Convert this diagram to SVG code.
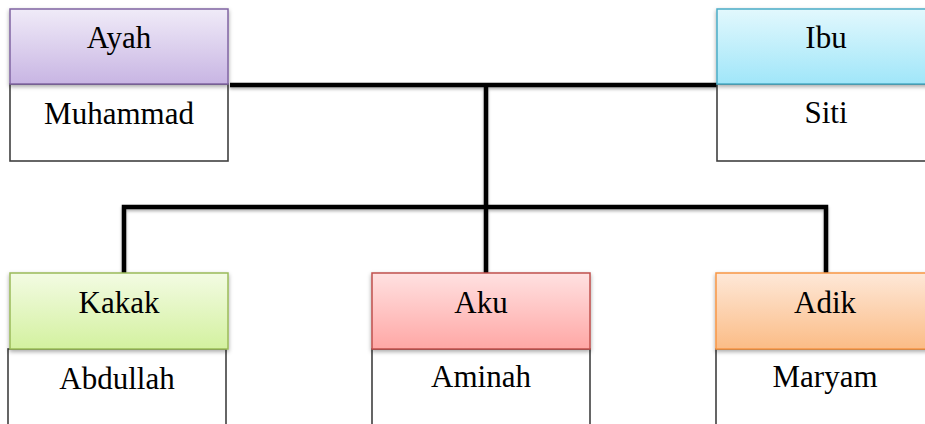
<svg xmlns="http://www.w3.org/2000/svg" width="925" height="424" viewBox="0 0 925 424">
<style>
.t{font-family:"Times New Roman","Liberation Serif",Tinos,"Noto Serif","DejaVu Serif",serif;font-size:31px;fill:#000;text-anchor:middle}
.body{fill:#fff;stroke:#404040;stroke-width:1.6}
.ln{fill:none;stroke:#000;stroke-width:4.5;stroke-linejoin:miter}
</style>
<defs>
<filter id="sh" x="-20%" y="-20%" width="140%" height="160%">
<feDropShadow dx="0" dy="2" stdDeviation="2" flood-color="#000" flood-opacity="0.35"/>
</filter>
<filter id="lsh" x="-5%" y="-5%" width="110%" height="110%">
<feDropShadow dx="0" dy="2" stdDeviation="1.5" flood-color="#000" flood-opacity="0.3"/>
</filter>
<linearGradient id="gP" x1="0" y1="0" x2="0" y2="1"><stop offset="0" stop-color="#f0ebf8"/><stop offset="1" stop-color="#c8b5e3"/></linearGradient>
<linearGradient id="gB" x1="0" y1="0" x2="0" y2="1"><stop offset="0" stop-color="#e2f8fd"/><stop offset="1" stop-color="#a0e6f9"/></linearGradient>
<linearGradient id="gG" x1="0" y1="0" x2="0" y2="1"><stop offset="0" stop-color="#f3fbe3"/><stop offset="1" stop-color="#d3f19f"/></linearGradient>
<linearGradient id="gR" x1="0" y1="0" x2="0" y2="1"><stop offset="0" stop-color="#ffe1e1"/><stop offset="1" stop-color="#ffa7a5"/></linearGradient>
<linearGradient id="gO" x1="0" y1="0" x2="0" y2="1"><stop offset="0" stop-color="#fee8d8"/><stop offset="1" stop-color="#fbbc86"/></linearGradient>
</defs>
<rect width="925" height="424" fill="#fff"/>
<g id="connectors" filter="url(#lsh)">
<path class="ln" d="M230 85 H717"/>
<path class="ln" d="M486 85 V273"/>
<path class="ln" d="M124 273 V207 H826 V273"/>
</g>
<g id="ayah">
<rect class="body" x="10" y="84" width="218" height="77"/>
<rect x="10" y="9" width="218" height="75" fill="url(#gP)" stroke="#8064a2" stroke-width="1.5" filter="url(#sh)"/>
<text class="t" x="119" y="48">Ayah</text>
<text class="t" x="119" y="124">Muhammad</text>
</g>
<g id="ibu">
<rect class="body" x="717" y="84" width="218" height="77"/>
<rect x="717" y="9" width="218" height="75" fill="url(#gB)" stroke="#4bacc6" stroke-width="1.5" filter="url(#sh)"/>
<text class="t" x="826" y="48">Ibu</text>
<text class="t" x="826" y="123">Siti</text>
</g>
<g id="kakak">
<rect class="body" x="8" y="349" width="218" height="100"/>
<rect x="10" y="273" width="218" height="76" fill="url(#gG)" stroke="#9bbb59" stroke-width="1.5" filter="url(#sh)"/>
<text class="t" x="119" y="313">Kakak</text>
<text class="t" x="117" y="389">Abdullah</text>
</g>
<g id="aku">
<rect class="body" x="372" y="349" width="218" height="100"/>
<rect x="372" y="273" width="218" height="76" fill="url(#gR)" stroke="#c0504d" stroke-width="1.5" filter="url(#sh)"/>
<text class="t" x="481" y="313">Aku</text>
<text class="t" x="481" y="387">Aminah</text>
</g>
<g id="adik">
<rect class="body" x="716" y="349" width="218" height="100"/>
<rect x="716" y="273" width="218" height="76" fill="url(#gO)" stroke="#f79646" stroke-width="1.5" filter="url(#sh)"/>
<text class="t" x="825" y="313">Adik</text>
<text class="t" x="825" y="387">Maryam</text>
</g>
</svg>
